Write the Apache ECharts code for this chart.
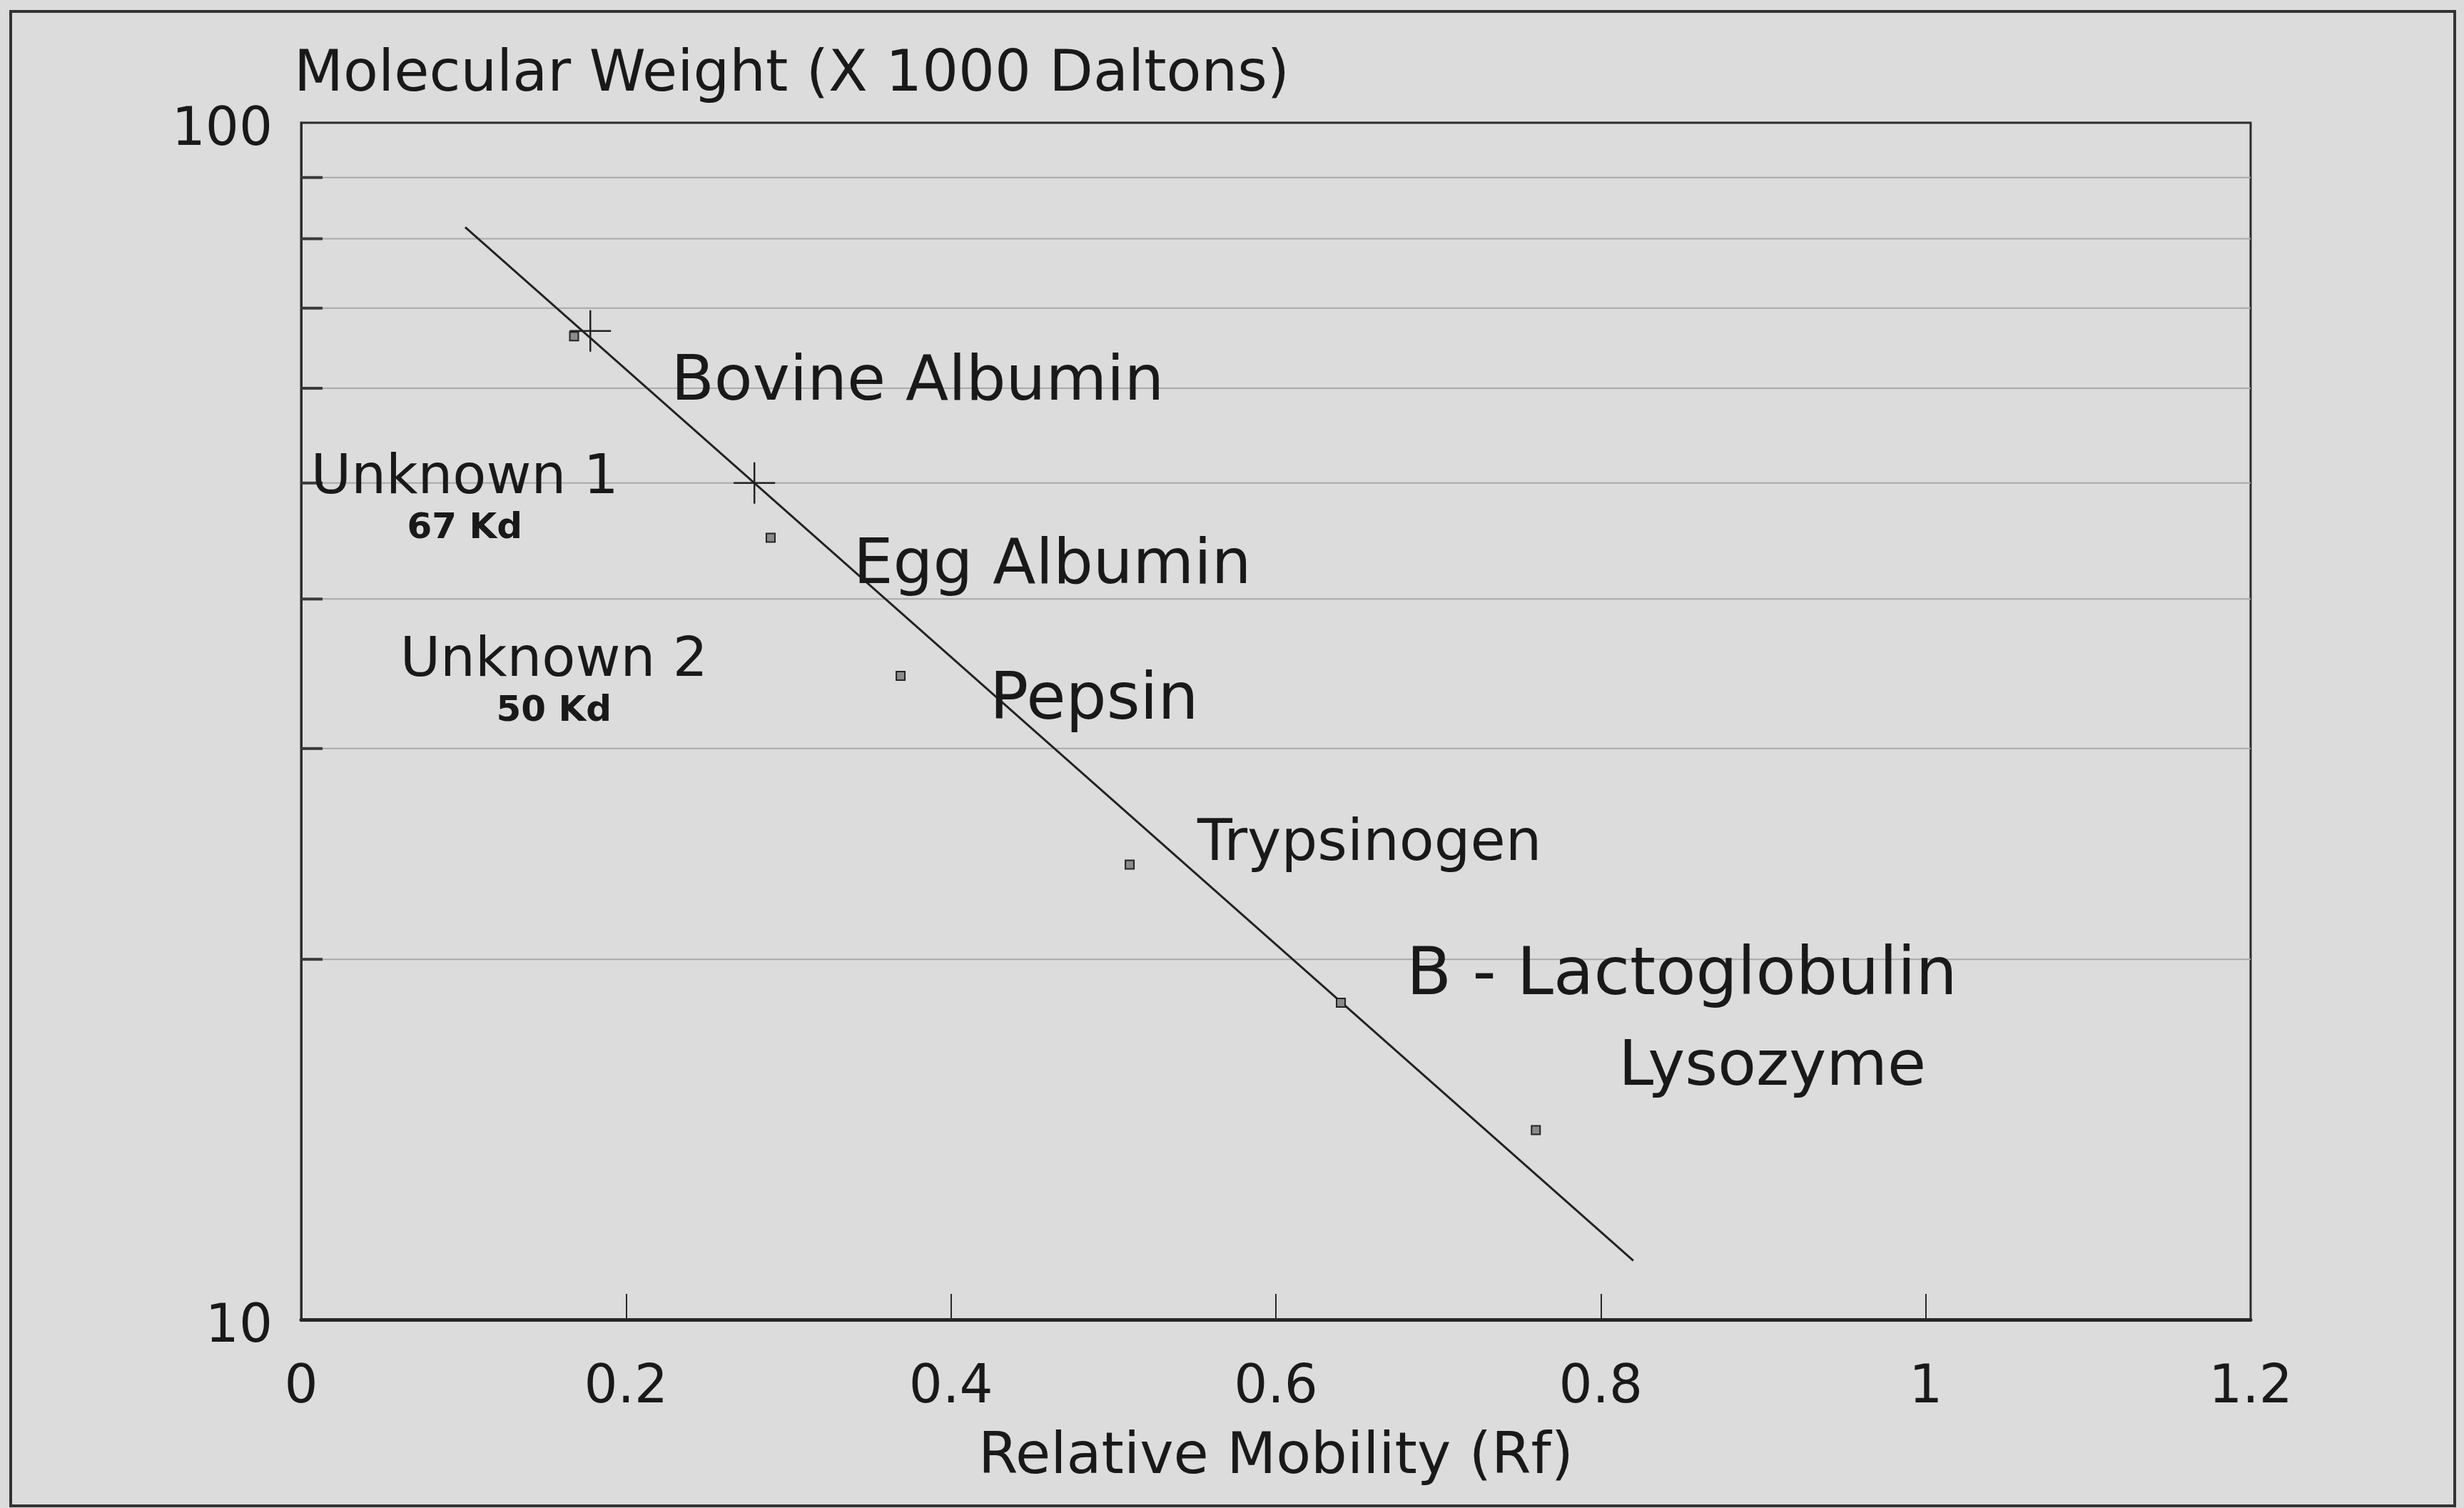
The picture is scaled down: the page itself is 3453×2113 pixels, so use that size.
<!DOCTYPE html>
<html>
<head>
<meta charset="utf-8">
<script src="https://cdn.jsdelivr.net/npm/echarts@6/dist/echarts.min.js"></script>
<style>
  html, body { margin: 0; padding: 0; background: #dcdcdc; }
  #chart { width: 3453px; height: 2113px; }
</style>
</head>
<body>
<div id="chart"></div>
<script>
// axis ranges
const xMin = 0, xMax = 1.2, xStep = 0.2;
const yMin = 10, yMax = 100;
const minorGridValues = [20, 30, 40, 50, 60, 70, 80, 90];

// standards (Rf, kDa)
const standardNames = ['Bovine Albumin', 'Egg Albumin', 'Pepsin', 'Trypsinogen', 'B - Lactoglobulin', 'Lysozyme'];
const standardRf = [0.168, 0.289, 0.369, 0.51, 0.64, 0.76];
const standardMW = [66.3, 45, 34.5, 24, 18.4, 14.4];

// unknowns (Rf, kDa)
const unknownNames = ['Unknown 1', 'Unknown 2'];
const unknownKd = ['67 Kd', '50 Kd'];
const unknownRf = [0.178, 0.279];
const unknownMW = [67, 50];

// fitted line end points
const fitRf = [0.101, 0.82];
const fitMW = [81.8, 11.2];

const ink = '#191919';

// label placement relative to each mark
const standardLabelOffsets = [[136, 66], [116, 41], [125, 37], [95, -27], [92, -36], [116, -86]];
const standardLabelSizes = [88, 88, 90, 80, 92, 88];
const unknownLabelOffsets = [[-176, 169], [-281, 212]];

const chart = echarts.init(document.getElementById('chart'));

const standardData = standardRf.map((x, i) => ({
  value: [x, standardMW[i]],
  label: {
    show: true,
    formatter: standardNames[i],
    position: 'inside',
    align: 'left',
    verticalAlign: 'middle',
    offset: standardLabelOffsets[i],
    fontSize: standardLabelSizes[i],
    fontFamily: 'DejaVu Sans',
    color: ink,
    textBorderWidth: 0
  }
}));

const unknownData = unknownRf.map((x, i) => ({
  value: [x, unknownMW[i]],
  label: {
    show: true,
    formatter: '{a|' + unknownNames[i] + '}\n{b|' + unknownKd[i] + '}',
    position: 'inside',
    align: 'center',
    verticalAlign: 'top',
    offset: unknownLabelOffsets[i],
    color: ink,
    textBorderWidth: 0,
    rich: {
      a: { fontSize: 77, lineHeight: 76, fontFamily: 'DejaVu Sans', color: ink, align: 'center' },
      b: { fontSize: 50, lineHeight: 64, fontFamily: 'DejaVu Sans', fontWeight: 'bold', color: ink, align: 'center' }
    }
  }
}));

const option = {
  backgroundColor: '#dcdcdc',
  animation: false,
  grid: {
    left: 422, right: 299, top: 172, bottom: 264,
    show: true,
    borderColor: '#2a2a2a',
    borderWidth: 3,
    backgroundColor: 'transparent',
    outerBoundsMode: 'none'
  },
  graphic: [{
    type: 'rect',
    shape: { x: 15, y: 16, width: 3425, height: 2094 },
    style: { fill: 'none', stroke: '#333', lineWidth: 4 },
    silent: true
  }],
  xAxis: {
    type: 'value',
    min: xMin, max: xMax, interval: xStep,
    name: 'Relative Mobility (Rf)',
    nameLocation: 'middle',
    nameGap: 194,
    nameTextStyle: { fontFamily: 'DejaVu Sans', fontSize: 80, color: ink, verticalAlign: 'middle' },
    axisLine: { show: true, lineStyle: { color: '#262626', width: 5 } },
    axisTick: { show: true, inside: true, length: 36, lineStyle: { color: '#2a2a2a', width: 2 } },
    axisLabel: {
      margin: 60, fontFamily: 'DejaVu Sans', fontSize: 74, color: ink,
      formatter: v => String(Math.round(v * 10) / 10)
    },
    splitLine: { show: false }
  },
  yAxis: {
    type: 'log',
    logBase: 10,
    min: yMin, max: yMax,
    name: 'Molecular Weight (X 1000 Daltons)',
    nameLocation: 'end',
    nameGap: 66,
    nameTextStyle: { fontFamily: 'DejaVu Sans', fontSize: 80, color: ink, align: 'left', verticalAlign: 'middle', padding: [0, 0, 0, -10] },
    axisLine: { show: true, lineStyle: { color: '#2a2a2a', width: 3 } },
    axisTick: { show: false },
    axisLabel: { margin: 40, fontFamily: 'DejaVu Sans', fontSize: 74, color: ink, verticalAlign: 'top', lineHeight: 24 },
    splitLine: { show: false }
  },
  series: [
    {
      // minor gridlines with short inner ticks on the left axis
      type: 'custom',
      silent: true,
      z: 1,
      data: minorGridValues.map(v => [xMin, v]),
      renderItem: function (params, api) {
        const v = api.value(1);
        const p0 = api.coord([xMin, v]);
        const p1 = api.coord([xMax, v]);
        return {
          type: 'group',
          children: [
            { type: 'line', shape: { x1: p0[0], y1: p0[1], x2: p1[0], y2: p1[1] },
              style: { stroke: '#a9a9a9', lineWidth: 2 } },
            { type: 'line', shape: { x1: p0[0], y1: p0[1], x2: p0[0] + 30, y2: p0[1] },
              style: { stroke: '#3a3a3a', lineWidth: 4 } }
          ]
        };
      }
    },
    {
      type: 'line',
      z: 3,
      data: fitRf.map((x, i) => [x, fitMW[i]]),
      showSymbol: false,
      symbol: 'none',
      lineStyle: { color: '#222', width: 3 }
    },
    {
      type: 'scatter',
      z: 4,
      data: standardData,
      symbol: 'rect',
      symbolSize: 12,
      itemStyle: { color: '#8a8a8a', borderColor: '#222', borderWidth: 2, opacity: 1 }
    },
    {
      type: 'scatter',
      z: 4,
      data: unknownData,
      symbol: 'path://M50,0L50,100M0,50L100,50',
      symbolSize: 58,
      itemStyle: { color: 'none', borderColor: '#222', borderWidth: 2.5, opacity: 1 }
    }
  ]
};

chart.setOption(option);
</script>
</body>
</html>
